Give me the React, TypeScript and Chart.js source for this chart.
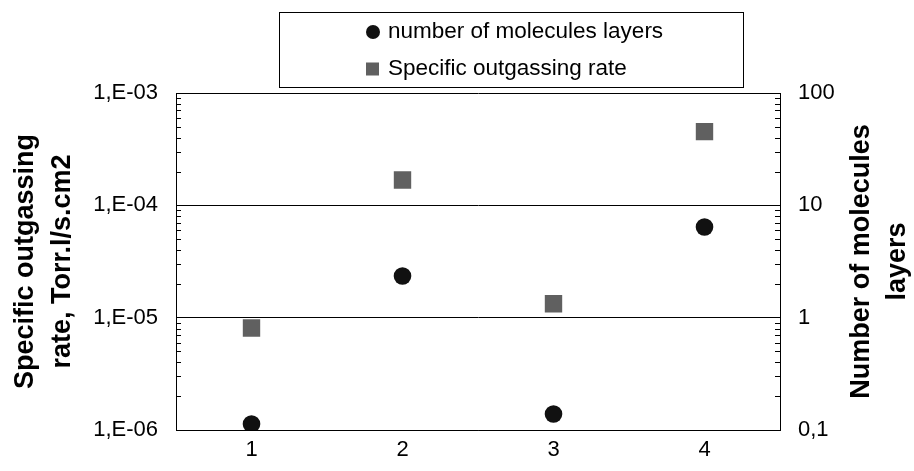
import React, { useEffect, useRef } from 'react';
import { Chart, registerables } from 'chart.js';

Chart.register(...registerables);

const categories = ['1', '2', '3', '4'];
const moleculeLayers = [0.113, 2.35, 0.139, 6.41];
const outgassingRate = [8.1e-6, 1.68e-4, 1.33e-5, 4.53e-4];
const leftTickValues = [1e-6, 1e-5, 1e-4, 1e-3];
const leftTickLabels = ['1,E-06', '1,E-05', '1,E-04', '1,E-03'];
const rightTickValues = [0.1, 1, 10, 100];
const rightTickLabels = ['0,1', '1', '10', '100'];
const seriesLabels = ['number of molecules layers', 'Specific outgassing rate'];
const leftTitle = ['Specific outgassing', 'rate, Torr.l/s.cm2'];
const rightTitle = ['Number of molecules', 'layers'];

const FONT = 'Arial, "Liberation Sans", sans-serif';
const CIRCLE_COLOR = '#111111';
const SQUARE_COLOR = '#606060';

const labelFor = (values: number[], labels: string[]) => (v: any) => {
  const i = values.findIndex((t) => Math.abs(Math.log10(t) - Math.log10(Number(v))) < 1e-6);
  return i >= 0 ? labels[i] : '';
};

const decorPlugin = {
  id: 'decor',
  afterDraw(chart: any) {
    const ctx = chart.ctx as CanvasRenderingContext2D;
    const area = chart.chartArea;
    ctx.save();
    // minor ticks inside the plot
    ctx.strokeStyle = '#000';
    ctx.lineWidth = 1;
    const drawMinor = (scale: any, x0: number, dir: number) => {
      const lo = Math.round(Math.log10(scale.min));
      const hi = Math.round(Math.log10(scale.max));
      for (let d = lo; d < hi; d++) {
        for (let k = 2; k <= 9; k++) {
          const y = Math.round(scale.getPixelForValue(k * Math.pow(10, d))) + 0.5;
          ctx.beginPath();
          ctx.moveTo(x0, y);
          ctx.lineTo(x0 + dir * 5, y);
          ctx.stroke();
        }
      }
    };
    drawMinor(chart.scales.y, Math.round(area.left), 1);
    drawMinor(chart.scales.y2, Math.round(area.right), -1);

    // axis titles
    const midY = (area.top + area.bottom) / 2;
    ctx.fillStyle = '#000';
    ctx.font = `bold 27px ${FONT}`;
    ctx.textAlign = 'center';
    ctx.textBaseline = 'middle';
    const drawRot = (lines: string[], xs: number[]) => {
      lines.forEach((line, i) => {
        ctx.save();
        ctx.translate(xs[i], midY);
        ctx.rotate(-Math.PI / 2);
        ctx.fillText(line, 0, 0);
        ctx.restore();
      });
    };
    drawRot(leftTitle, [26, 63]);
    drawRot(rightTitle, [862, 898]);

    // legend box
    const bx = 279, by = 12, bw = 464, bh = 75;
    ctx.strokeStyle = '#000';
    ctx.lineWidth = 1;
    ctx.strokeRect(bx + 0.5, by + 0.5, bw, bh);
    ctx.font = `22.5px ${FONT}`;
    ctx.textAlign = 'left';
    ctx.textBaseline = 'middle';
    const rows = [32, 69];
    // circle item
    ctx.fillStyle = CIRCLE_COLOR;
    ctx.beginPath();
    ctx.arc(373, rows[0], 7, 0, Math.PI * 2);
    ctx.fill();
    ctx.fillStyle = '#000';
    ctx.fillText(chart.data.datasets[0].label, 388, rows[0]);
    // square item
    ctx.fillStyle = SQUARE_COLOR;
    ctx.fillRect(366, rows[1] - 6.5, 13, 13);
    ctx.fillStyle = '#000';
    ctx.fillText(chart.data.datasets[1].label, 388, rows[1]);
    ctx.restore();
  },
};

export default function App() {
  const ref = useRef<HTMLCanvasElement | null>(null);
  useEffect(() => {
    document.body.style.margin = '0';
    document.body.style.overflow = 'hidden';
    const canvas = ref.current;
    if (!canvas) return;
    const tickFont = { family: FONT, size: 22 };
    const chart = new Chart(canvas, {
      type: 'line',
      data: {
        labels: categories,
        datasets: [
          {
            label: seriesLabels[0],
            data: moleculeLayers,
            yAxisID: 'y2',
            showLine: false,
            pointStyle: 'circle',
            pointRadius: 8.8,
            pointBorderWidth: 0,
            pointBackgroundColor: CIRCLE_COLOR,
            backgroundColor: CIRCLE_COLOR,
            borderColor: CIRCLE_COLOR,
          },
          {
            label: seriesLabels[1],
            data: outgassingRate,
            yAxisID: 'y',
            showLine: false,
            pointStyle: 'rect',
            pointRadius: 12.3,
            pointBorderWidth: 0,
            pointBackgroundColor: SQUARE_COLOR,
            backgroundColor: SQUARE_COLOR,
            borderColor: SQUARE_COLOR,
          },
        ],
      },
      options: {
        animation: false,
        responsive: false,
        maintainAspectRatio: false,
        events: [],
        layout: { padding: { top: 93, left: 0, right: 0, bottom: 0 } },
        plugins: { legend: { display: false }, tooltip: { enabled: false } },
        scales: {
          x: {
            type: 'category',
            offset: true,
            grid: { display: false, drawTicks: false },
            border: { display: true, color: '#000', width: 1 },
            ticks: { color: '#000', font: tickFont, padding: 7, maxRotation: 0 },
            afterFit: (s: any) => { s.height = 41; },
          },
          y: {
            type: 'logarithmic',
            position: 'left',
            min: 1e-6,
            max: 1e-3,
            afterBuildTicks: (s: any) => { s.ticks = leftTickValues.map((v) => ({ value: v })); },
            grid: { color: '#000', lineWidth: 1, drawTicks: false },
            border: { display: true, color: '#000', width: 1 },
            ticks: { color: '#000', font: tickFont, padding: 18, callback: labelFor(leftTickValues, leftTickLabels) },
            afterFit: (s: any) => { s.width = 176; },
          },
          y2: {
            type: 'logarithmic',
            position: 'right',
            min: 0.1,
            max: 100,
            afterBuildTicks: (s: any) => { s.ticks = rightTickValues.map((v) => ({ value: v })); },
            grid: { drawOnChartArea: false, drawTicks: false },
            border: { display: true, color: '#000', width: 1 },
            ticks: { color: '#000', font: tickFont, padding: 18, callback: labelFor(rightTickValues, rightTickLabels) },
            afterFit: (s: any) => { s.width = 134; },
          },
        },
      } as any,
      plugins: [decorPlugin],
    });
    return () => chart.destroy();
  }, []);
  return (
    <div style={{ width: 914, height: 471, position: 'relative', background: '#fff' }}>
      <canvas ref={ref} width={914} height={471} style={{ display: 'block', width: 914, height: 471 }} />
    </div>
  );
}
